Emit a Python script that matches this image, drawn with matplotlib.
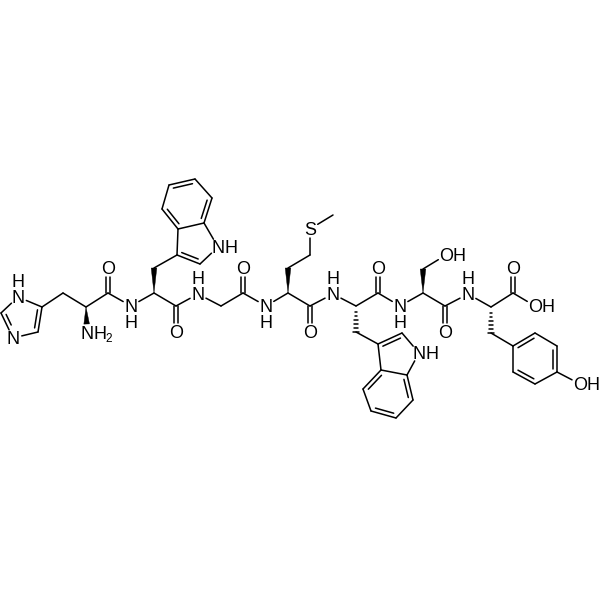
import numpy as np
import matplotlib
matplotlib.use("Agg")
import matplotlib.pyplot as plt

plt.rcParams["font.family"] = ["Liberation Sans", "DejaVu Sans"]

# atom positions, in pixels
atoms = {
    # histidine
    "h_n1": (18, 297), "h_c2": (1, 313), "h_n3": (13, 338), "h_c4": (38, 332), "h_c5": (42, 307),
    "h_cb": (63, 293), "h_ca": (86, 307), "h_nh2": (87, 333), "h_c": (108, 293), "h_o": (108, 268),
    # tryptophan 1
    "n2": (131, 306), "w1_ca": (154, 293), "w1_cb": (154, 268), "w1_c3": (177, 255), "w1_c2": (200, 264),
    "w1_n": (218, 247), "w1_c7a": (204, 223), "w1_c3a": (178, 229), "w1_c4": (162, 209), "w1_c5": (169, 185),
    "w1_c6": (195, 179), "w1_c7": (212, 198), "w1_c": (176, 306), "w1_o": (176, 332),
    # glycine
    "n3": (198, 294), "g_ca": (221, 306), "g_c": (243, 293), "g_o": (243, 268),
    # methionine
    "n4": (266, 306), "m_ca": (288, 293), "m_cb": (288, 268), "m_cg": (310, 255), "m_s": (310, 229),
    "m_me": (333, 215), "m_c": (310, 306), "m_o": (310, 332),
    # tryptophan 2
    "n5": (333, 294), "w2_ca": (356, 306), "w2_cb": (356, 332), "w2_c3": (378, 344), "w2_c2": (402, 333),
    "w2_n": (419, 353), "w2_c7a": (407, 375), "w2_c3a": (381, 370), "w2_c4": (363, 389), "w2_c5": (371, 411),
    "w2_c6": (396, 418), "w2_c7": (413, 400), "w2_c": (378, 293), "w2_o": (378, 268),
    # serine
    "n6": (400, 306), "s_ca": (423, 293), "s_cb": (423, 269), "s_oh": (446, 255), "s_c": (445, 306), "s_o": (445, 332),
    # tyrosine
    "n7": (468, 294), "y_ca": (491, 307), "y_cb": (491, 333), "y_c": (513, 293), "y_o": (513, 268), "y_oh": (535, 306),
    "y_c1": (513, 346), "y_c2": (535, 333), "y_c3": (557, 346), "y_c4": (557, 372), "y_c5": (535, 384), "y_c6": (513, 372),
    "y_oh2": (580, 384),
}

single_bonds = [
    ("h_n1", "h_c2"), ("h_n3", "h_c4"), ("h_n1", "h_c5"), ("h_c5", "h_cb"), ("h_cb", "h_ca"), ("h_ca", "h_c"),
    ("h_c", "n2"), ("n2", "w1_ca"), ("w1_cb", "w1_c3"), ("w1_c3", "w1_c3a"), ("w1_c2", "w1_n"), ("w1_n", "w1_c7a"),
    ("w1_c3a", "w1_c7a"), ("w1_c4", "w1_c5"), ("w1_c6", "w1_c7"), ("w1_ca", "w1_c"), ("w1_c", "n3"),
    ("n3", "g_ca"), ("g_ca", "g_c"), ("g_c", "n4"), ("n4", "m_ca"), ("m_cb", "m_cg"), ("m_cg", "m_s"), ("m_s", "m_me"),
    ("m_ca", "m_c"), ("m_c", "n5"), ("n5", "w2_ca"), ("w2_cb", "w2_c3"), ("w2_c3", "w2_c3a"), ("w2_c2", "w2_n"),
    ("w2_n", "w2_c7a"), ("w2_c3a", "w2_c7a"), ("w2_c4", "w2_c5"), ("w2_c6", "w2_c7"),
    ("w2_ca", "w2_c"), ("w2_c", "n6"), ("n6", "s_ca"), ("s_cb", "s_oh"), ("s_ca", "s_c"), ("s_c", "n7"), ("n7", "y_ca"),
    ("y_ca", "y_c"), ("y_c", "y_oh"), ("y_cb", "y_c1"), ("y_c2", "y_c3"), ("y_c4", "y_c5"), ("y_c6", "y_c1"), ("y_c4", "y_oh2"),
]

carbonyls = [("h_c", "h_o"), ("w1_c", "w1_o"), ("g_c", "g_o"), ("m_c", "m_o"), ("w2_c", "w2_o"), ("s_c", "s_o"), ("y_c", "y_o")]

# ring double bonds, third name is the ring centre side
ring_doubles = [
    ("h_c2", "h_n3", "h_c4"), ("h_c4", "h_c5", "h_n1"),
    ("w1_c3", "w1_c2", "w1_n"), ("w1_c3a", "w1_c4", "w1_c6"), ("w1_c5", "w1_c6", "w1_c3a"), ("w1_c7", "w1_c7a", "w1_c5"),
    ("w2_c3", "w2_c2", "w2_n"), ("w2_c3a", "w2_c4", "w2_c6"), ("w2_c5", "w2_c6", "w2_c3a"), ("w2_c7", "w2_c7a", "w2_c5"),
    ("y_c1", "y_c2", "y_c4"), ("y_c3", "y_c4", "y_c6"), ("y_c5", "y_c6", "y_c2"),
]

wedges = [("h_ca", "h_nh2"), ("w1_ca", "w1_cb"), ("m_ca", "m_cb"), ("s_ca", "s_cb")]
hashes = [("w2_ca", "w2_cb"), ("y_ca", "y_cb")]

# text labels: atom name, then the letters next to it
hetero = ["h_n1", "h_n3", "h_nh2", "h_o", "n2", "w1_n", "w1_o", "n3", "g_o", "n4", "m_s", "m_o", "n5", "w2_n", "w2_o",
          "n6", "s_oh", "s_o", "n7", "y_o", "y_oh", "y_oh2"]
letters = ["N", "N", "N", "O", "N", "N", "O", "N", "O", "N", "S", "O", "N", "N", "O", "N", "O", "O", "N", "O", "O", "O"]
h_above = ["h_n1", "n3", "n5", "n7"]
h_below = ["n2", "n4", "n6"]
h_right = ["h_nh2", "w1_n", "w2_n", "s_oh", "y_oh", "y_oh2"]

ink = "black"
lw = 1.1
trim = 9.0
fs = 13
cap = 6.4  # half cap height in px, baseline sits this far under the atom


def pos(name):
    return np.array(atoms[name], dtype=float)


def ends(a, b):
    p, q = pos(a), pos(b)
    u = (q - p) / np.linalg.norm(q - p)
    if a in hetero:
        p = p + u * trim
    if b in hetero:
        q = q - u * trim
    return p, q


def line(ax, p, q):
    ax.plot([p[0], q[0]], [p[1], q[1]], color=ink, lw=lw, solid_capstyle="round")


def letter(ax, x, y, s, size=fs):
    ax.text(x, y + cap, s, fontsize=size, color=ink, ha="center", va="baseline")


fig = plt.figure(figsize=(6, 6), dpi=100)
ax = fig.add_axes([0, 0, 1, 1])
ax.set_xlim(0, 600)
ax.set_ylim(600, 0)
ax.axis("off")

for a, b in single_bonds:
    line(ax, *ends(a, b))

for a, b in carbonyls:
    p, q = ends(a, b)
    u = (q - p) / np.linalg.norm(q - p)
    n = np.array([-u[1], u[0]])
    line(ax, p + n * 2.3, q + n * 2.3)
    line(ax, p - n * 2.3, q - n * 2.3)

for a, b, c in ring_doubles:
    p, q = ends(a, b)
    line(ax, p, q)
    u = (q - p) / np.linalg.norm(q - p)
    n = np.array([-u[1], u[0]])
    if np.dot(pos(c) - p, n) < 0:
        n = -n
    line(ax, p + n * 4 + u * 3.5, q + n * 4 - u * 3.5)

for a, b in wedges:
    p, q = ends(a, b)
    u = (q - p) / np.linalg.norm(q - p)
    n = np.array([-u[1], u[0]])
    ax.fill([p[0], q[0] + n[0] * 2.8, q[0] - n[0] * 2.8], [p[1], q[1] + n[1] * 2.8, q[1] - n[1] * 2.8],
            color=ink, lw=0.3)

for a, b in hashes:
    p, q = ends(a, b)
    u = (q - p) / np.linalg.norm(q - p)
    n = np.array([-u[1], u[0]])
    for t in np.linspace(0.08, 1, 7):
        c = p + (q - p) * t
        line(ax, c - n * 2.8 * t, c + n * 2.8 * t)

for name, s in zip(hetero, letters):
    x, y = atoms[name]
    letter(ax, x, y, s)
    if name in h_above:
        letter(ax, x, y - 16, "H")
    if name in h_below:
        letter(ax, x, y + 16, "H")
    if name in h_right:
        letter(ax, x + 13, y, "H")
    if name == "h_nh2":
        letter(ax, x + 22, y + 3, "2", size=8.5)

fig.savefig("out.png", dpi=100)
